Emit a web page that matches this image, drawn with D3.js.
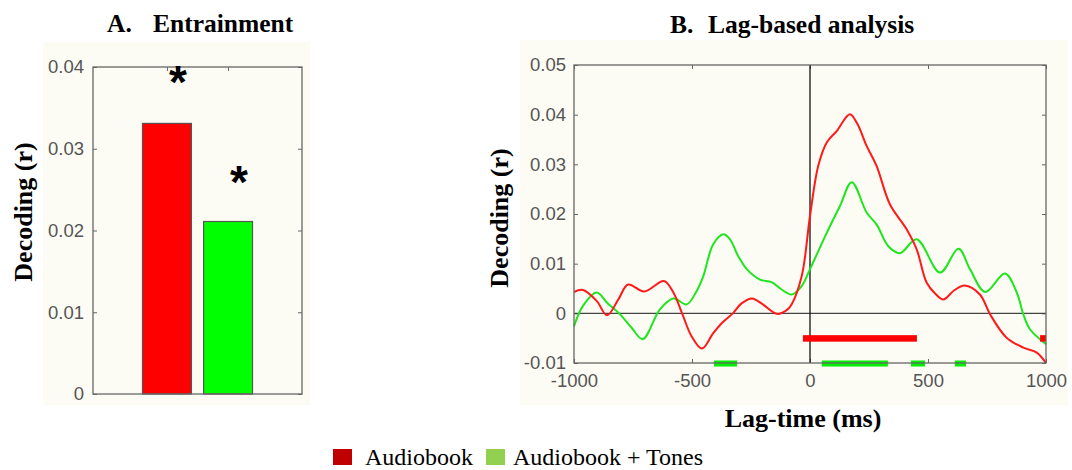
<!DOCTYPE html>
<html>
<head>
<meta charset="utf-8">
<script src="https://cdn.jsdelivr.net/npm/d3@7"></script>
<style>
  body { margin: 0; background: #fff; }
  .tick text { font-family: "Liberation Sans", Arial, sans-serif; font-size: 18.5px; fill: #555; }
  .tick line { stroke: #666; }
  .domain { display: none; }
  .ttl { font-family: "Liberation Serif", "Times New Roman", serif; font-weight: bold; fill: #000; }
</style>
</head>
<body>
<svg id="chart" width="1072" height="470"></svg>
<script>
// panel A: entrainment bars
var barNames = ["Audiobook", "Audiobook + Tones"];
var barValues = [0.0331, 0.0211];
var starValues = [0.0394, 0.0272];
var yTicksA = [0, 0.01, 0.02, 0.03, 0.04];

// panel B: lag-based decoding, [lag ms, r]
var lagAudiobook = [
  [-1000, 0.0043], [-962, 0.0047], [-904, 0.0025], [-860, -0.0004], [-812, 0.0028],
  [-771, 0.0058], [-703, 0.0044], [-619, 0.0065], [-579, 0.0042], [-542, 0.0000],
  [-502, -0.0046], [-458, -0.0071], [-410, -0.0040], [-370, -0.0018], [-325, 0.0001],
  [-290, 0.0020], [-246, 0.0030], [-200, 0.0018], [-141, -0.0001], [-100, 0.0006],
  [-78, 0.0018], [-35, 0.0075], [0, 0.0196], [35, 0.0297], [71, 0.0344],
  [113, 0.0367], [169, 0.0401], [200, 0.0382], [240, 0.0337], [282, 0.0297],
  [339, 0.0219], [410, 0.0169], [452, 0.0129], [494, 0.0062], [530, 0.0040],
  [565, 0.0028], [610, 0.0046], [655, 0.0056], [720, 0.0038], [763, -0.0002],
  [833, -0.0049], [904, -0.0069], [961, -0.0079], [1000, -0.0100]
];
var lagTones = [
  [-1000, -0.0026], [-962, 0.0015], [-904, 0.0042], [-859, 0.0021], [-805, -0.0002],
  [-756, -0.0029], [-709, -0.0052], [-636, 0.0008], [-579, 0.0030], [-523, 0.0018],
  [-480, 0.0045], [-452, 0.0075], [-410, 0.0139], [-367, 0.0159], [-339, 0.0149],
  [-304, 0.0115], [-268, 0.0089], [-212, 0.0068], [-163, 0.0063], [-120, 0.0048],
  [-78, 0.0038], [-35, 0.0055], [0, 0.0089], [71, 0.0162], [127, 0.0216],
  [177, 0.0264], [240, 0.0203], [282, 0.0179], [332, 0.0135], [381, 0.0121],
  [452, 0.0149], [551, 0.0082], [629, 0.0130], [678, 0.0089], [742, 0.0043],
  [826, 0.0080], [876, 0.0042], [904, -0.0002], [932, -0.0032], [1000, -0.0062]
];
var sigAudiobook = [[-30, 453], [975, 1000]];
var sigTones = [[-407, -309], [50, 330], [428, 487], [614, 661]];
var xTicksB = [-1000, -500, 0, 500, 1000];
var yTicksB = [-0.01, 0, 0.01, 0.02, 0.03, 0.04, 0.05];

var redLine = "#ff1a1a", greenLine = "#1ee61e";
var bg = "#fdfcf4";

// matlab style labels with a plain hyphen
function fmtY(d) {
    return d === 0 ? "0" : d3.format(".2f")(d).replace("\u2212", "-");
}
function fmtX(d) {
    return String(d);
}

var svg = d3.select("#chart");

// ---------- panel A ----------
svg.append("rect").attr("x", 43).attr("y", 42).attr("width", 267).attr("height", 363).attr("fill", bg);

var xA = d3.scaleLinear().domain([-0.21, 3.21]).range([93, 302]);
var yA = d3.scaleLinear().domain([0, 0.04]).range([394, 67]);

svg.append("g").attr("transform", "translate(93,0)")
    .call(d3.axisLeft(yA).tickValues(yTicksA).tickSize(-4).tickPadding(9).tickFormat(fmtY));
svg.append("g").attr("transform", "translate(302,0)")
    .call(d3.axisRight(yA).tickValues(yTicksA).tickSize(-4).tickFormat(""));
svg.append("g").attr("transform", "translate(0,67)")
    .call(d3.axisTop(xA).tickValues([1, 2]).tickSize(-4).tickFormat(""));
svg.append("g").attr("transform", "translate(0,394)")
    .call(d3.axisBottom(xA).tickValues([1, 2]).tickSize(-4).tickFormat(""));

svg.selectAll(".barA")
    .data(barValues)
    .enter()
    .append("rect")
    .attr("x", (d, i) => xA(i + 1 - 0.4))
    .attr("width", xA(0.8) - xA(0))
    .attr("y", d => yA(d))
    .attr("height", d => yA(0) - yA(d))
    .attr("fill", (d, i) => i === 0 ? "#ff0000" : "#00ff00")
    .attr("stroke", "#555")
    .attr("stroke-width", 1.2);

svg.append("rect").attr("x", 93).attr("y", 67).attr("width", 209).attr("height", 327)
    .attr("fill", "none").attr("stroke", "#666").attr("stroke-width", 1.3);

svg.selectAll(".star")
    .data(starValues)
    .enter()
    .append("text")
    .attr("x", (d, i) => xA(i + 1) + 11)
    .attr("y", d => yA(d) + 26)
    .attr("text-anchor", "middle")
    .style("font-family", "Liberation Sans, Arial, sans-serif")
    .style("font-size", "46px")
    .style("font-weight", "bold")
    .text("*");

var tA = svg.append("text").attr("class", "ttl").attr("y", 32).style("font-size", "25.5px");
tA.append("tspan").attr("x", 107).text("A.");
tA.append("tspan").attr("x", 153).text("Entrainment");

svg.append("text").attr("class", "ttl")
    .attr("transform", "translate(32,212) rotate(-90)")
    .attr("text-anchor", "middle")
    .style("font-size", "26px")
    .text("Decoding (r)");

// ---------- panel B ----------
svg.append("rect").attr("x", 520).attr("y", 40).attr("width", 548).attr("height", 365).attr("fill", bg);

var xB = d3.scaleLinear().domain([-1000, 1000]).range([574, 1046]);
var yB = d3.scaleLinear().domain([-0.01, 0.05]).range([363, 65]);

svg.append("g").attr("transform", "translate(574,0)")
    .call(d3.axisLeft(yB).tickValues(yTicksB).tickSize(-4).tickPadding(8).tickFormat(fmtY));
svg.append("g").attr("transform", "translate(1046,0)")
    .call(d3.axisRight(yB).tickValues(yTicksB).tickSize(-4).tickFormat(""));
svg.append("g").attr("transform", "translate(0,363)")
    .call(d3.axisBottom(xB).tickValues(xTicksB).tickSize(-4).tickPadding(11).tickFormat(fmtX));
svg.append("g").attr("transform", "translate(0,65)")
    .call(d3.axisTop(xB).tickValues(xTicksB).tickSize(-4).tickFormat(""));

// zero lines
svg.append("line").attr("x1", 574).attr("x2", 1046).attr("y1", yB(0)).attr("y2", yB(0))
    .attr("stroke", "#444").attr("stroke-width", 1.3);
svg.append("line").attr("x1", xB(0)).attr("x2", xB(0)).attr("y1", 65).attr("y2", 363)
    .attr("stroke", "#111").attr("stroke-width", 1.3);

var line = d3.line()
    .x(d => xB(d[0]))
    .y(d => yB(d[1]))
    .curve(d3.curveCatmullRom.alpha(0.5));

svg.append("path").datum(lagTones).attr("d", line)
    .attr("fill", "none").attr("stroke", greenLine).attr("stroke-width", 2);
svg.append("path").datum(lagAudiobook).attr("d", line)
    .attr("fill", "none").attr("stroke", redLine).attr("stroke-width", 2);

// significance bars
svg.selectAll(".sigR")
    .data(sigAudiobook)
    .enter()
    .append("rect")
    .attr("x", d => xB(d[0]))
    .attr("width", d => xB(d[1]) - xB(d[0]))
    .attr("y", yB(-0.005) - 3)
    .attr("height", 6.5)
    .attr("fill", "#ff0000");
svg.selectAll(".sigG")
    .data(sigTones)
    .enter()
    .append("rect")
    .attr("x", d => xB(d[0]))
    .attr("width", d => xB(d[1]) - xB(d[0]))
    .attr("y", yB(-0.01) - 2.5)
    .attr("height", 6)
    .attr("fill", "#00ee00");

svg.append("rect").attr("x", 574).attr("y", 65).attr("width", 472).attr("height", 298)
    .attr("fill", "none").attr("stroke", "#666").attr("stroke-width", 1.3);

var tB = svg.append("text").attr("class", "ttl").attr("y", 33).style("font-size", "25.5px");
tB.append("tspan").attr("x", 670).text("B.");
tB.append("tspan").attr("x", 708).text("Lag-based analysis");

svg.append("text").attr("class", "ttl")
    .attr("transform", "translate(508,218) rotate(-90)")
    .attr("text-anchor", "middle")
    .style("font-size", "26px")
    .text("Decoding (r)");

svg.append("text").attr("class", "ttl")
    .attr("x", 803).attr("y", 427)
    .attr("text-anchor", "middle")
    .style("font-size", "26px")
    .text("Lag-time (ms)");

// ---------- legend ----------
var legendColors = ["#c00000", "#92d050"];
var legendX = [333, 486];
var legendTextX = [365, 513];
var lg = svg.selectAll(".lg")
    .data(barNames)
    .enter()
    .append("g");
lg.append("rect")
    .attr("x", (d, i) => legendX[i]).attr("y", 449)
    .attr("width", 19).attr("height", 16)
    .attr("fill", (d, i) => legendColors[i]);
lg.append("text")
    .attr("x", (d, i) => legendTextX[i]).attr("y", 465)
    .style("font-family", "Liberation Serif, Times New Roman, serif")
    .style("font-size", "24px")
    .text(d => d);
</script>
</body>
</html>
